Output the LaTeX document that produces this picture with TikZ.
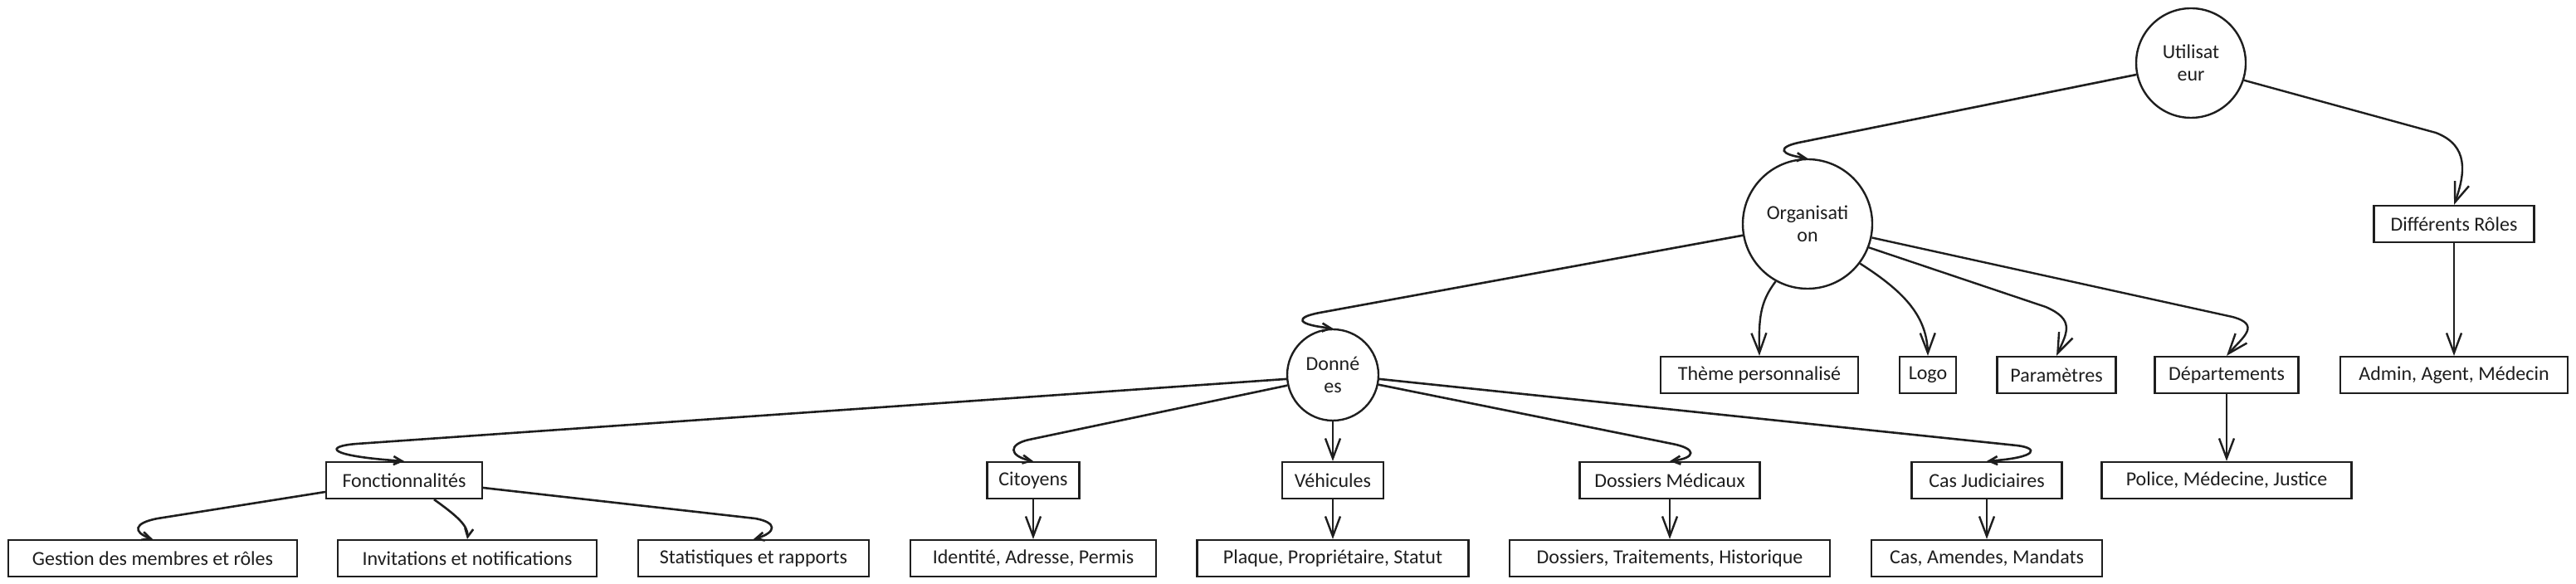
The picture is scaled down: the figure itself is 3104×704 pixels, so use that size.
\documentclass[tikz,border=0pt]{standalone}
\usepackage{fontspec}
\setmainfont{Carlito}
\usetikzlibrary{arrows.meta,bending}
\definecolor{ink}{HTML}{1E1E1E}
\begin{document}
\begin{tikzpicture}[x=0.5pt,y=-0.5pt,
  every node/.style={font=\fontsize{12}{13.5}\selectfont, text=ink},
  box/.style={draw=ink, line width=1.1pt, minimum height=22pt, inner sep=0pt, fill=white},
  circ/.style={draw=ink, line width=1.2pt, circle, inner sep=0pt, align=center, fill=white},
  conn/.style={draw=ink, line width=1.2pt, -{Straight Barb[length=12pt,width=9pt,flex]}},
  hook/.style={draw=ink, line width=1.3pt, -{Straight Barb[length=5pt,width=5pt,flex]}},
]
\useasboundingbox (0,0) rectangle (3104,704);
\fill[white] (0,0) rectangle (3104,704);

% circles
\node[circ, minimum size=66pt] (util) at (2640,76) {Utilisat\\eur};
\node[circ, minimum size=78pt] (org) at (2178,270) {Organisati\\on};
\node[circ, minimum size=55pt] (don) at (1606,452) {Donné\\es};

% level boxes
\node[box, minimum width=96.5pt] (dr) at (2957,270) {Différents Rôles};
\node[box, minimum width=137pt] (adm) at (2957,452) {Admin, Agent, Médecin};
\node[box, minimum width=119pt] (theme) at (2120,452) {Thème personnalisé};
\node[box, minimum width=34pt] (logo) at (2323,452) {Logo};
\node[box, minimum width=71.5pt] (param) at (2478,452) {Paramètres};
\node[box, minimum width=86.5pt] (dept) at (2683,452) {Départements};
\node[box, minimum width=150.5pt] (pol) at (2683,579) {Police, Médecine, Justice};

\node[box, minimum width=94pt] (fonc) at (487,579) {Fonctionnalités};
\node[box, minimum width=55.5pt] (cit) at (1245,579) {Citoyens};
\node[box, minimum width=61pt] (veh) at (1606,579) {Véhicules};
\node[box, minimum width=108.5pt] (dm) at (2012,579) {Dossiers Médicaux};
\node[box, minimum width=90.5pt] (cj) at (2394,579) {Cas Judiciaires};

\node[box, minimum width=174pt] (gest) at (184,673) {Gestion des membres et rôles};
\node[box, minimum width=156pt] (inv) at (563,673) {Invitations et notifications};
\node[box, minimum width=139pt] (stat) at (908,673) {Statistiques et rapports};
\node[box, minimum width=148pt] (iden) at (1245,673) {Identité, Adresse, Permis};
\node[box, minimum width=163.5pt] (plaq) at (1606,673) {Plaque, Propriétaire, Statut};
\node[box, minimum width=193pt] (dth) at (2012,673) {Dossiers, Traitements, Historique};
\node[box, minimum width=139pt] (cam) at (2394,673) {Cas, Amendes, Mandats};

% connectors from Utilisateur
\draw[hook] (util.192) -- (2167,172) .. controls (2140,178) and (2145,187) .. (org.north);
\draw[conn] (util.342) -- (2935,160) .. controls (2977,176) and (2970,212) .. (dr.north);
\draw[conn] (dr.south) -- (adm.north);

% connectors from Organisation
\draw[hook] (org.190) -- (1590,377) .. controls (1558,383) and (1563,392) .. (don.north);
\draw[conn] (org.241) .. controls (2120,365) and (2119,385) .. (theme.north);
\draw[conn] (org.323) .. controls (2300,355) and (2323,385) .. (logo.north);
\draw[conn] (org.339) -- (2465,370) .. controls (2502,386) and (2490,402) .. (param.north);
\draw[conn] (org.348) -- (2690,382) .. controls (2727,392) and (2700,408) .. (dept.north);
\draw[conn] (dept.south) -- (pol.north);

% connectors from Données
\draw[hook] (don.185) -- (430,535) .. controls (390,538) and (393,550) .. (fonc.north);
\draw[hook] (don.193) -- (1240,530) .. controls (1213,536) and (1216,551) .. (cit.north);
\draw[conn] (don.south) -- (veh.north);
\draw[hook] (don.348) -- (2015,535) .. controls (2046,541) and (2044,553) .. (dm.north);
\draw[hook] (don.355) -- (2430,537) .. controls (2457,540) and (2457,552) .. (cj.north);

% level 3
\draw[hook] ([yshift=-7pt]fonc.west) -- (190,625) .. controls (158,631) and (161,643) .. (gest.north);
\draw[hook] ([xshift=18pt]fonc.south) .. controls (555,625) and (566,636) .. (inv.north);
\draw[hook] ([yshift=-4.5pt]fonc.east) -- (910,625) .. controls (938,630) and (936,643) .. (stat.north);
\draw[conn] (cit.south) -- (iden.north);
\draw[conn] (veh.south) -- (plaq.north);
\draw[conn] (dm.south) -- (dth.north);
\draw[conn] (cj.south) -- (cam.north);
\end{tikzpicture}
\end{document}
